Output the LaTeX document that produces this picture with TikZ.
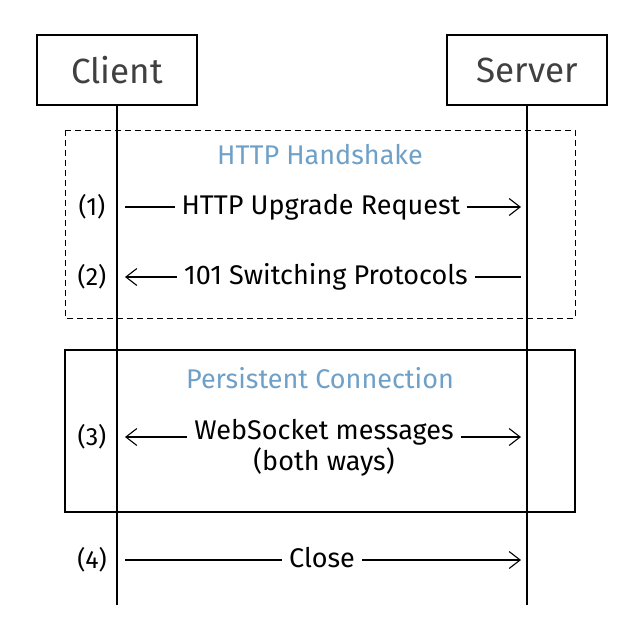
\documentclass[tikz,border=0pt]{standalone}
\usepackage{fontspec}
\setmainfont{Fira Sans}
\usetikzlibrary{arrows.meta}
\begin{document}
\begin{tikzpicture}[x=1pt,y=-1pt,
  actor/.style={draw,line width=1.4pt,minimum width=160pt,minimum height=70pt,font=\fontsize{35}{40}\selectfont,text=black!75},
  life/.style={line width=1.2pt},
  msg/.style={line width=1.1pt},
  tip/.style={-{Straight Barb[length=11pt,width=17pt,line width=1.1pt]}},
  lab/.style={fill=white,font=\fontsize{27}{31}\selectfont,inner xsep=7pt,inner ysep=3pt},
  num/.style={font=\fontsize{25}{29}\selectfont},
  title/.style={font=\fontsize{27}{31}\selectfont,text={rgb,255:red,110;green,160;blue,200}}]
\useasboundingbox (0,0) rectangle (640,640);
\node[actor] (client) at (117,70) {Client};
\node[actor] (server) at (527,70) {Server};
\coordinate (cend) at (117,605);
\coordinate (send) at (527,605);
\draw[life] (client.south) -- (cend);
\draw[life] (server.south) -- (send);
\draw[dashed,line width=1pt,dash pattern=on 6pt off 4pt] (65,130) rectangle (575,318);
\draw[line width=1.6pt] (65,350) rectangle (575,512);
\node[title] (t1) at (320,155) {HTTP Handshake};
\node[title] (t2) at (320,378) {Persistent Connection};
\coordinate (a1) at (125,207); \coordinate (b1) at (521,207);
\coordinate (a2) at (125,277); \coordinate (b2) at (521,277);
\coordinate (a3) at (125,437); \coordinate (b3) at (521,437);
\coordinate (a4) at (125,560); \coordinate (b4) at (521,560);
\node[num] (n1) at (92,207) {(1)};
\node[num] (n2) at (92,277) {(2)};
\node[num] (n3) at (92,437) {(3)};
\node[num] (n4) at (92,560) {(4)};
\draw[msg,tip] (a1) -- (b1);
\draw[msg,tip] (b2) -- (a2);
\draw[msg,tip] (a4) -- (b4);
\draw[msg,{Straight Barb[length=11pt,width=17pt,line width=1.1pt]}-{Straight Barb[length=11pt,width=17pt,line width=1.1pt]}] (a3) -- (b3);
\node[lab] (m1) at (321,207) {HTTP Upgrade Request};
\node[lab] (m2) at (326,277) {101 Switching Protocols};
\node[lab,align=center] (m3) at (324,448) {WebSocket messages\\(both ways)};
\node[lab] (m4) at (322,558) {Close};
\end{tikzpicture}
\end{document}
